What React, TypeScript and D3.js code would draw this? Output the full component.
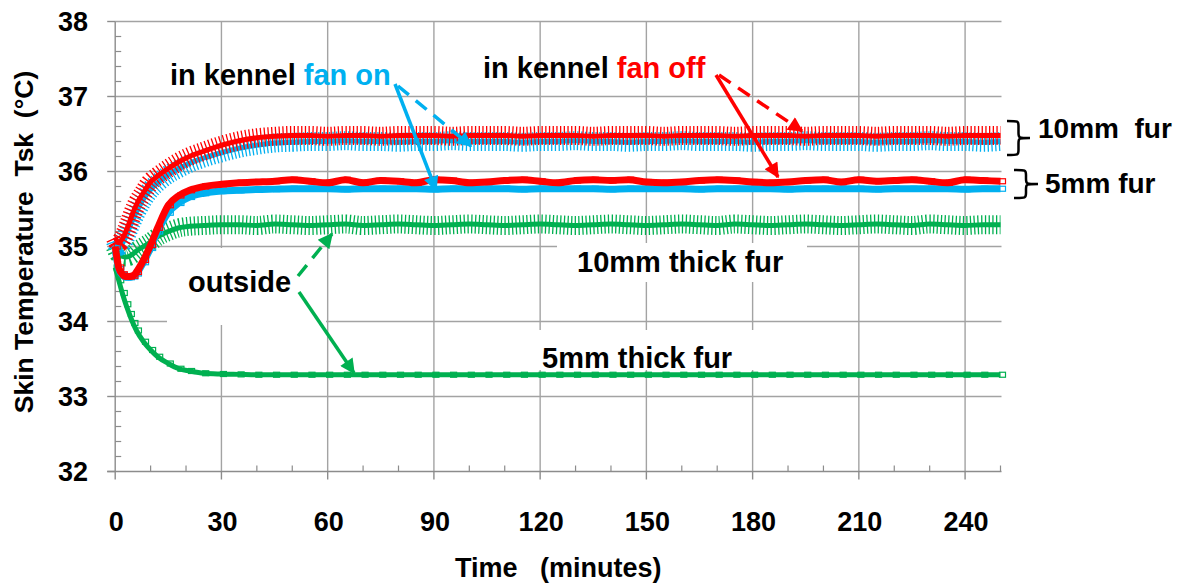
import React from 'react';
import * as d3 from 'd3';

// ---------- data ----------
const TIME = [0, 1, 2, 3, 4, 5, 6, 8, 10, 12, 15, 18, 21, 25, 30,
  35, 40, 45, 50, 55, 60, 65, 70, 75, 80, 85, 90, 95, 100, 105, 110, 115, 120, 125, 130,
  135, 140, 145, 150, 155, 160, 165, 170, 175, 180, 185, 190, 195, 200, 205, 210, 215, 220, 225, 230,
  235, 240, 245, 250];

// in kennel, fan off, 10mm fur
const KENNEL_FANOFF_10MM = [35.12, 35.05, 35.1, 35.2, 35.32, 35.45, 35.56, 35.72, 35.86, 35.94, 36.04, 36.13, 36.2, 36.27, 36.35,
  36.41, 36.45, 36.47, 36.48, 36.48, 36.47, 36.48, 36.48, 36.47, 36.48, 36.48, 36.48, 36.47, 36.48, 36.48, 36.48, 36.47, 36.48, 36.48, 36.48,
  36.47, 36.48, 36.48, 36.48, 36.47, 36.48, 36.48, 36.48, 36.47, 36.48, 36.48, 36.48, 36.47, 36.48, 36.48, 36.48, 36.47, 36.48, 36.48, 36.48,
  36.47, 36.48, 36.48, 36.48];
// in kennel, fan on, 10mm fur
const KENNEL_FANON_10MM = [35.08, 35.0, 35.04, 35.13, 35.25, 35.36, 35.46, 35.63, 35.76, 35.85, 35.96, 36.04, 36.11, 36.18, 36.25,
  36.31, 36.35, 36.38, 36.39, 36.4, 36.4, 36.41, 36.4, 36.4, 36.39, 36.4, 36.4, 36.41, 36.4, 36.4, 36.4, 36.39, 36.4, 36.4, 36.41,
  36.4, 36.4, 36.39, 36.4, 36.4, 36.41, 36.4, 36.4, 36.4, 36.39, 36.4, 36.4, 36.41, 36.4, 36.4, 36.4, 36.39, 36.4, 36.4, 36.41,
  36.4, 36.4, 36.39, 36.4];
// in kennel, fan off, 5mm fur
const KENNEL_FANOFF_5MM = [35.0, 34.72, 34.63, 34.6, 34.6, 34.61, 34.66, 34.82, 35.02, 35.25, 35.55, 35.68, 35.75, 35.8, 35.83,
  35.85, 35.86, 35.87, 35.89, 35.87, 35.85, 35.89, 35.85, 35.88, 35.87, 35.85, 35.89, 35.88, 35.85, 35.86, 35.88, 35.89, 35.87, 35.85, 35.88,
  35.89, 35.88, 35.89, 35.86, 35.85, 35.86, 35.88, 35.89, 35.88, 35.86, 35.85, 35.86, 35.88, 35.89, 35.86, 35.89, 35.87, 35.88, 35.89, 35.87,
  35.85, 35.89, 35.88, 35.87];
// in kennel, fan on, 5mm fur
const KENNEL_FANON_5MM = [34.95, 34.7, 34.62, 34.59, 34.59, 34.6, 34.64, 34.79, 34.98, 35.2, 35.45, 35.58, 35.66, 35.71, 35.74,
  35.75, 35.76, 35.765, 35.77, 35.77, 35.77, 35.765, 35.77, 35.77, 35.77, 35.77, 35.765, 35.77, 35.77, 35.77, 35.77, 35.765, 35.77, 35.77, 35.77,
  35.77, 35.765, 35.77, 35.77, 35.77, 35.77, 35.765, 35.77, 35.77, 35.77, 35.77, 35.765, 35.77, 35.77, 35.77, 35.77, 35.765, 35.77, 35.77, 35.77,
  35.77, 35.765, 35.77, 35.77];
// outside, 10mm thick fur
const OUTSIDE_10MM = [35.0, 34.9, 34.87, 34.86, 34.87, 34.9, 34.94, 35.0, 35.06, 35.13, 35.2, 35.25, 35.27, 35.28, 35.29,
  35.29, 35.28, 35.3, 35.29, 35.28, 35.29, 35.3, 35.28, 35.29, 35.3, 35.29, 35.28, 35.29, 35.3, 35.29, 35.28, 35.29, 35.3, 35.29, 35.28,
  35.29, 35.3, 35.29, 35.28, 35.29, 35.3, 35.29, 35.28, 35.3, 35.29, 35.28, 35.29, 35.3, 35.29, 35.28, 35.29, 35.3, 35.29, 35.28, 35.3,
  35.29, 35.28, 35.29, 35.29];
// outside, 5mm thick fur
const OUTSIDE_5MM = [34.72, 34.55, 34.38, 34.23, 34.1, 33.98, 33.88, 33.73, 33.62, 33.53, 33.44, 33.37, 33.34, 33.31, 33.3,
  33.295, 33.29, 33.29, 33.29, 33.29, 33.29, 33.29, 33.29, 33.29, 33.29, 33.29, 33.29, 33.29, 33.29, 33.29, 33.29, 33.29, 33.29, 33.29, 33.29,
  33.29, 33.29, 33.29, 33.29, 33.29, 33.29, 33.29, 33.29, 33.29, 33.29, 33.29, 33.29, 33.29, 33.29, 33.29, 33.29, 33.29, 33.29, 33.29, 33.29,
  33.29, 33.29, 33.29, 33.29];

const X_TICKS = [0, 30, 60, 90, 120, 150, 180, 210, 240];
const Y_TICKS = [32, 33, 34, 35, 36, 37, 38];

const X_TITLE = 'Time   (minutes)';
const Y_TITLE = 'Skin Temperature  Tsk  (°C)';

const RED = '#ff0000';
const BLUE = '#00b0f0';
const GREEN = '#00b050';

const SERIES = [
  { key: 'o5', values: OUTSIDE_5MM, color: GREEN, kind: 'thin' },
  { key: 'o10', values: OUTSIDE_10MM, color: GREEN, kind: 'hatch' },
  { key: 'k10on', values: KENNEL_FANON_10MM, color: BLUE, kind: 'hatch' },
  { key: 'k5on', values: KENNEL_FANON_5MM, color: BLUE, kind: 'thick' },
  { key: 'k10off', values: KENNEL_FANOFF_10MM, color: RED, kind: 'hatch' },
  { key: 'k5off', values: KENNEL_FANOFF_5MM, color: RED, kind: 'thick' },
];

const FONT = '"Liberation Sans", Arial, Helvetica, sans-serif';

export default function App() {
  const W = 1183, H = 584;
  const x = d3.scaleLinear().domain([0, 250]).range([115.2, 1000.5]);
  const y = d3.scaleLinear().domain([32, 38]).range([471.5, 21.5]);
  const x0 = x(0), x1 = x(250) + 1;
  const yTop = y(38), yBot = y(32);

  const line = d3.line<[number, number]>()
    .x((d) => x(d[0]))
    .y((d) => y(d[1]))
    .curve(d3.curveMonotoneX);

  const minorY = d3.range(32, 38.0001, 0.2).filter((v) => Math.abs(v - Math.round(v)) > 0.01);
  const minorX = d3.range(10, 250.001, 10).filter((v) => v % 30 !== 0);
  const grid = '#a3a3a3';
  const axisC = '#8c8c8c';

  const brace = (bx: number, y0: number, y1: number, w: number) => {
    const s = bx + w * 0.5;
    const ym = (y0 + y1) / 2;
    const r = 5;
    return `M${bx},${y0} C${s},${y0} ${s},${y0} ${s},${y0 + r} L${s},${ym - r} C${s},${ym} ${s},${ym} ${bx + w},${ym} ` +
      `C${s},${ym} ${s},${ym} ${s},${ym + r} L${s},${y1 - r} C${s},${y1} ${s},${y1} ${bx},${y1}`;
  };

  const markers = [
    { id: 'ah-blue', c: BLUE },
    { id: 'ah-red', c: RED },
    { id: 'ah-green', c: GREEN },
  ];

  const arrows = [
    { x1: 395, y1: 84, x2: 436, y2: 190, c: 'blue', dash: false },
    { x1: 398, y1: 86, x2: 471, y2: 146, c: 'blue', dash: true },
    { x1: 716, y1: 75, x2: 778, y2: 177, c: 'red', dash: false },
    { x1: 719, y1: 75, x2: 802, y2: 131, c: 'red', dash: true },
    { x1: 298, y1: 276, x2: 332, y2: 234, c: 'green', dash: true },
    { x1: 299, y1: 292, x2: 354, y2: 373, c: 'green', dash: false },
  ];
  const colorOf: Record<string, string> = { blue: BLUE, red: RED, green: GREEN };

  return (
    <svg width={W} height={H} style={{ position: 'absolute', left: 0, top: 0, background: '#fff' }}
      fontFamily={FONT}>
      <defs>
        {markers.map((m) => (
          <marker key={m.id} id={m.id} viewBox="0 0 10 10" refX="9" refY="5" markerWidth="17" markerHeight="15"
            markerUnits="userSpaceOnUse" orient="auto">
            <path d="M0,0 L10,5 L0,10 z" fill={m.c} />
          </marker>
        ))}
      </defs>
      <rect x={0} y={0} width={W} height={H} fill="#fff" />

      {/* gridlines */}
      {Y_TICKS.filter((v) => v !== 32).map((v) => (
        <line key={'gy' + v} x1={x0} x2={x1} y1={y(v)} y2={y(v)} stroke={grid} strokeWidth={1.4} />
      ))}
      {X_TICKS.filter((v) => v !== 0).map((v) => (
        <line key={'gx' + v} x1={x(v)} x2={x(v)} y1={yTop} y2={yBot} stroke={grid} strokeWidth={1.4} />
      ))}

      {/* text boxes (white fill hiding gridlines) */}
      <rect x={167} y={248} width={159} height={77} fill="#fff" />
      <rect x={557} y={243} width={250} height={39} fill="#fff" />
      <rect x={528} y={330} width={232} height={40} fill="#fff" />

      {/* axes */}
      <line x1={x0} x2={x0} y1={yTop} y2={yBot} stroke={axisC} strokeWidth={1.4} />
      <line x1={x0 - 8} x2={x1} y1={yBot} y2={yBot} stroke={axisC} strokeWidth={1.4} />
      {Y_TICKS.map((v) => (
        <line key={'ty' + v} x1={x0 - 8} x2={x0} y1={y(v)} y2={y(v)} stroke={axisC} strokeWidth={1.4} />
      ))}
      {minorY.map((v) => (
        <line key={'my' + v} x1={x0} x2={x0 + 6} y1={y(v)} y2={y(v)} stroke={axisC} strokeWidth={1.2} />
      ))}
      {X_TICKS.map((v) => (
        <line key={'tx' + v} x1={x(v)} x2={x(v)} y1={yBot} y2={yBot + 8} stroke={axisC} strokeWidth={1.4} />
      ))}
      {minorX.map((v) => (
        <line key={'mx' + v} x1={x(v)} x2={x(v)} y1={yBot - 6} y2={yBot} stroke={axisC} strokeWidth={1.2} />
      ))}

      {/* tick labels */}
      {Y_TICKS.map((v) => (
        <text key={'ly' + v} x={88} y={y(v) + 9.7} textAnchor="end" fontSize={27} fontWeight="bold" fill="#000">{v}</text>
      ))}
      {X_TICKS.map((v) => (
        <text key={'lx' + v} x={x(v) + 1} y={531} textAnchor="middle" fontSize={27} fontWeight="bold" fill="#000">{v}</text>
      ))}
      <text x={(x0 + x1) / 2} y={577} textAnchor="middle" fontSize={27} fontWeight="bold" fill="#000"
        style={{ whiteSpace: 'pre' }}>{X_TITLE}</text>
      <text transform={`translate(33,242) rotate(-90)`} textAnchor="middle" fontSize={26.5} fontWeight="bold" fill="#000"
        style={{ whiteSpace: 'pre' }}>{Y_TITLE}</text>

      {/* series */}
      {SERIES.map((s) => {
        const pts = TIME.map((t, i) => [t, s.values[i]] as [number, number]);
        const d = line(pts) || '';
        if (s.kind === 'hatch') {
          return (
            <g key={s.key}>
              <path d={d} fill="none" stroke={s.color} strokeWidth={19} strokeDasharray="1.3 2.4" />
              <path d={d} fill="none" stroke={s.color} strokeWidth={5} strokeLinejoin="round" />
            </g>
          );
        }
        const w = s.kind === 'thick' ? 7 : 5;
        return (
          <g key={s.key}>
            <path d={d} fill="none" stroke={s.color} strokeWidth={w} strokeLinejoin="round" />
            {pts.map((p, i) => (
              <rect key={i} x={x(p[0]) - 1} y={y(p[1]) - 2.5} width={6} height={5} fill="none"
                stroke={s.color} strokeWidth={1.2} />
            ))}
          </g>
        );
      })}

      {/* annotation arrows */}
      {arrows.map((a, i) => (
        <line key={'ar' + i} x1={a.x1} y1={a.y1} x2={a.x2} y2={a.y2} stroke={colorOf[a.c]} strokeWidth={3.5}
          strokeDasharray={a.dash ? '14 9' : undefined} markerEnd={`url(#ah-${a.c})`} />
      ))}

      {/* annotation texts */}
      <text x={170} y={85} fontSize={29} fontWeight="bold" fill="#000" style={{ whiteSpace: 'pre' }}>
        {'in kennel '}<tspan fill={BLUE}>fan on</tspan>
      </text>
      <text x={483} y={78} fontSize={29} fontWeight="bold" fill="#000" style={{ whiteSpace: 'pre' }}>
        {'in kennel '}<tspan fill={RED}>fan off</tspan>
      </text>
      <text x={188} y={291.5} fontSize={29} fontWeight="bold" fill="#000">outside</text>
      <text x={577} y={272} fontSize={29} fontWeight="bold" fill="#000">10mm thick fur</text>
      <text x={542} y={368} fontSize={29} fontWeight="bold" fill="#000">5mm thick fur</text>

      {/* braces & right labels */}
      <path d={brace(1007, 121, 155, 23)} fill="none" stroke="#000" strokeWidth={2.5} />
      <text x={1038} y={138} fontSize={28} fontWeight="bold" fill="#000" style={{ whiteSpace: 'pre' }}>{'10mm  fur'}</text>
      <path d={brace(1014, 170, 198, 24)} fill="none" stroke="#000" strokeWidth={2.5} />
      <text x={1045} y={193} fontSize={28} fontWeight="bold" fill="#000">5mm fur</text>
    </svg>
  );
}
